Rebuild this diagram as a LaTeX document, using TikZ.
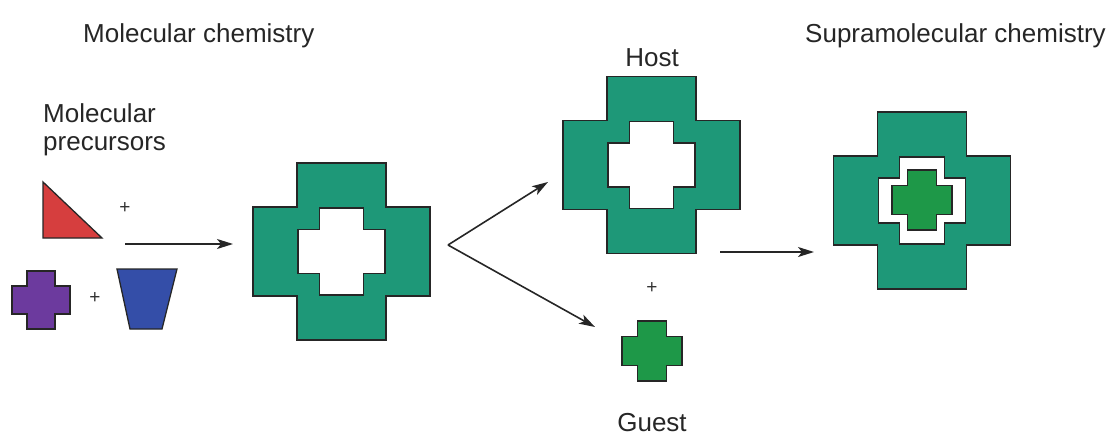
\documentclass[tikz,border=0pt]{standalone}
\usepackage{fontspec}
\setmainfont{Liberation Sans}
\usetikzlibrary{arrows.meta}

\definecolor{hostteal}{RGB}{30,152,120}
\definecolor{guestgreen}{RGB}{30,152,72}
\definecolor{precred}{RGB}{214,62,62}
\definecolor{precpurple}{RGB}{108,58,158}
\definecolor{precblue}{RGB}{52,78,168}

% Cross-shaped outline centred at (#1,#2), arm reach #3, arm half-width #4
\newcommand\crossoutline[4]{%
  ({#1-#4},{#2-#3}) -- ({#1+#4},{#2-#3}) -- ({#1+#4},{#2-#4}) --
  ({#1+#3},{#2-#4}) -- ({#1+#3},{#2+#4}) -- ({#1+#4},{#2+#4}) --
  ({#1+#4},{#2+#3}) -- ({#1-#4},{#2+#3}) -- ({#1-#4},{#2+#4}) --
  ({#1-#3},{#2+#4}) -- ({#1-#3},{#2-#4}) -- ({#1-#4},{#2-#4}) -- cycle}

\tikzset{
  label text/.style={font=\fontsize{26}{28}\selectfont, inner sep=0pt, text=black!85},
  plus sign/.style={font=\fontsize{19}{19}\selectfont, inner sep=0pt, text=black!80},
  shape edge/.style={draw=black!85, line width=1.3pt, line join=miter},
  ring/.style={shape edge, fill=hostteal, even odd rule},
  reaction/.style={draw=black!85, line width=1.6pt,
    -{Stealth[length=16pt,width=10pt,inset=4pt]}},
}

\begin{document}
\begin{tikzpicture}[x=1pt, y=-1pt]
\useasboundingbox (0,0) rectangle (1115,439);

% headings
\node[label text, anchor=base west] (molchem) at (83,42) {Molecular chemistry};
\node[label text, anchor=base west] (suprachem) at (805,42) {Supramolecular chemistry};
\node[label text, anchor=north west, align=left] (precursors) at (43,103)
  {Molecular\\precursors};

% molecular precursors
\draw[shape edge, fill=precred] (43,182) -- (43,238) -- (102,238) -- cycle;
\draw[shape edge, fill=precpurple] \crossoutline{41}{300}{29}{14};
\draw[shape edge, fill=precblue] (117,269) -- (177,269) -- (162,329) -- (130,329) -- cycle;
\node[plus sign] (plusA) at (125,208) {+};
\node[plus sign] (plusB) at (95,298) {+};

% assembled receptor
\draw[ring] \crossoutline{341.5}{251.5}{88.5}{44.5} \crossoutline{341.5}{251.5}{43.5}{22};

% host and guest
\node[label text, anchor=base] (hostlabel) at (652,66) {Host};
\draw[ring] \crossoutline{651.5}{165}{88.5}{44.5} \crossoutline{651.5}{165}{43.5}{22};
\node[plus sign] (plusC) at (652,288) {+};
\draw[shape edge, fill=guestgreen] \crossoutline{652}{351}{30}{14.5};
\node[label text, anchor=base] (guestlabel) at (652,431) {Guest};

% host-guest complex
\draw[ring] \crossoutline{922}{200.5}{88.5}{44.5} \crossoutline{922}{200.5}{43.5}{22.5};
\draw[shape edge, fill=guestgreen] \crossoutline{922}{200}{30}{14.5};

% reaction arrows
\coordinate (a1s) at (125,244);
\coordinate (a1e) at (233,244);
\coordinate (split) at (448,245);
\coordinate (tohost) at (548,182);
\coordinate (toguest) at (595,327);
\coordinate (a4s) at (720,252);
\coordinate (a4e) at (814,252);
\draw[reaction] (a1s) -- (a1e);
\draw[reaction] (split) -- (tohost);
\draw[reaction] (split) -- (toguest);
\draw[reaction] (a4s) -- (a4e);
\end{tikzpicture}
\end{document}
